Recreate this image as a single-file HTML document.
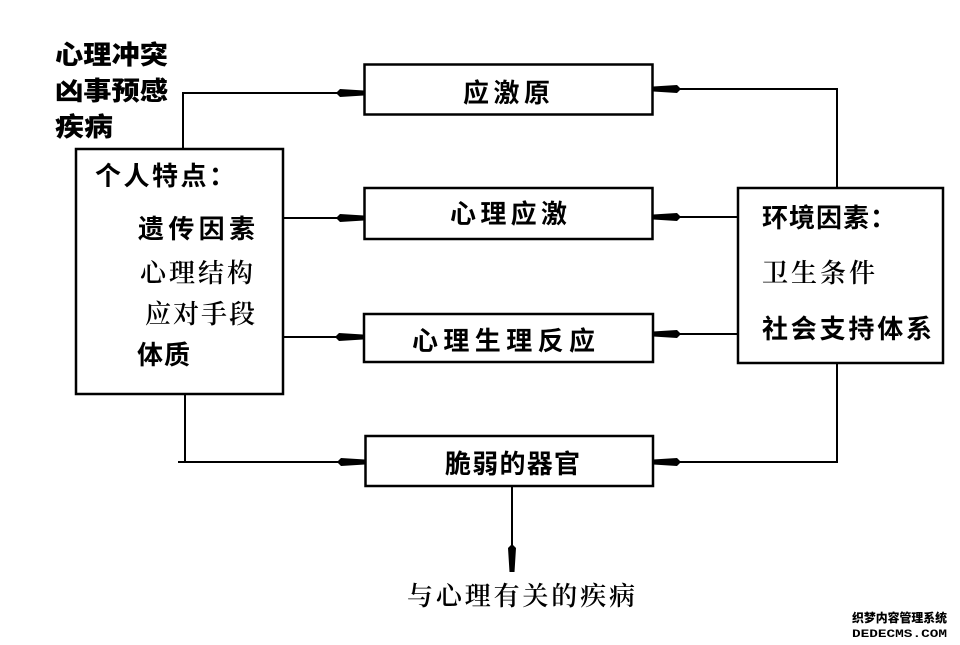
<!DOCTYPE html>
<html><head><meta charset="utf-8">
<style>
html,body{margin:0;padding:0;background:#fff;}
svg{display:block;}
.b{font-family:"Liberation Sans","Noto Sans CJK SC",sans-serif;font-weight:700;font-size:26px;fill:#000;}
.s{font-family:"Liberation Serif","Noto Serif CJK SC",serif;font-weight:600;font-size:26px;fill:#000;}
</style></head>
<body>
<svg width="960" height="645" viewBox="0 0 960 645" xmlns="http://www.w3.org/2000/svg">
<rect width="960" height="645" fill="#fff"/>
<g fill="none" stroke="#000">
  <!-- boxes -->
  <rect x="76" y="149" width="207" height="245" stroke-width="2.5"/>
  <rect x="738" y="188" width="205" height="175" stroke-width="2.5"/>
  <rect x="364.5" y="64.5" width="288" height="50" stroke-width="2.5"/>
  <rect x="364.5" y="188" width="288" height="51" stroke-width="2.5"/>
  <rect x="364" y="314" width="289" height="48" stroke-width="2.5"/>
  <rect x="365.5" y="436" width="287.5" height="50" stroke-width="2.5"/>
  <!-- connectors -->
  <g stroke-width="2">
    <polyline points="183,149 183,93 340,93"/>
    <line x1="283" y1="218" x2="340" y2="218"/>
    <line x1="283" y1="337" x2="340" y2="337"/>
    <line x1="185" y1="394" x2="185" y2="462"/>
    <line x1="178" y1="462" x2="342" y2="462"/>
    <polyline points="837,188 837,89 676,89"/>
    <line x1="738" y1="217" x2="676" y2="217"/>
    <line x1="738" y1="334" x2="676" y2="334"/>
    <polyline points="837,363 837,462 676,462"/>
    <line x1="512" y1="486" x2="512" y2="548"/>
  </g>
</g>
<!-- arrowheads -->
<g fill="#000">
  <polygon points="364,90.5 364,95.5 340,97 336,93 340,89"/>
  <polygon points="364,215.5 364,220.5 340,222 336,218 340,214"/>
  <polygon points="363,334.5 363,339.5 339,341 335,337 339,333"/>
  <polygon points="365,459.5 365,464.5 341,466 337,462 341,458"/>
  <polygon points="653,86.5 653,91.5 677,93 681,89 677,85"/>
  <polygon points="653,214.5 653,219.5 677,221 681,217 677,213"/>
  <polygon points="653,331.5 653,336.5 677,338 681,334 677,330"/>
  <polygon points="653,459.5 653,464.5 677,466 681,462 677,458"/>
  <polygon points="509.5,572 514.5,572 516,548 512,544 508,548"/>
</g>
<!-- texts -->
<text class="b" x="55" y="64" textLength="113" lengthAdjust="spacingAndGlyphs" style="font-weight:900">心理冲突</text>
<text class="b" x="55" y="100" textLength="113" lengthAdjust="spacingAndGlyphs" style="font-weight:900">凶事预感</text>
<text class="b" x="55" y="136" textLength="58" lengthAdjust="spacingAndGlyphs" style="font-weight:900">疾病</text>

<text class="b" x="95" y="185" textLength="140" lengthAdjust="spacing">个人特点：</text>
<text class="b" x="138" y="238" textLength="117" lengthAdjust="spacing">遗传因素</text>
<text class="s" x="140" y="282" textLength="113" lengthAdjust="spacing">心理结构</text>
<text class="s" x="145" y="323" textLength="110" lengthAdjust="spacing">应对手段</text>
<text class="b" x="137" y="364" textLength="53" lengthAdjust="spacing">体质</text>

<text class="b" x="463" y="102" textLength="87" lengthAdjust="spacing">应激原</text>
<text class="b" x="450" y="223" textLength="117" lengthAdjust="spacing">心理应激</text>
<text class="b" x="412" y="350" textLength="183" lengthAdjust="spacing">心理生理反应</text>
<text class="b" x="445" y="473" textLength="135" lengthAdjust="spacing">脆弱的器官</text>
<text class="s" x="407" y="605" textLength="228" lengthAdjust="spacing">与心理有关的疾病</text>

<text class="b" x="762" y="227" textLength="134" lengthAdjust="spacing">环境因素：</text>
<text class="s" x="762" y="282" textLength="113" lengthAdjust="spacing">卫生条件</text>
<text class="b" x="762" y="338" textLength="170" lengthAdjust="spacing">社会支持体系</text>

<!-- watermark -->
<text x="852" y="622" textLength="95" lengthAdjust="spacingAndGlyphs" style="font-family:'Liberation Sans','Noto Sans CJK SC',sans-serif;font-weight:900;font-size:12px;fill:#000;">织梦内容管理系统</text>
<text x="852" y="637" textLength="95" lengthAdjust="spacingAndGlyphs" style="font-family:'Liberation Mono',monospace;font-weight:700;font-size:11px;fill:#000;">DEDECMS.COM</text>
</svg>
</body></html>
